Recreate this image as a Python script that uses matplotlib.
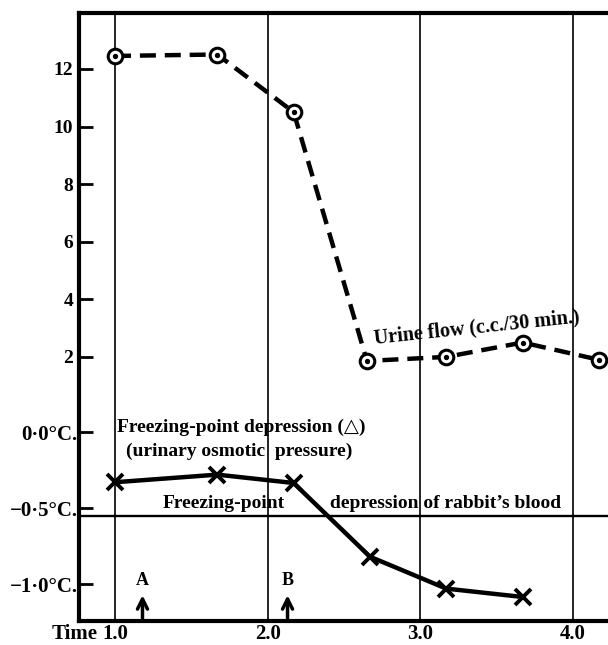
import matplotlib
matplotlib.use("Agg")
import matplotlib.pyplot as plt
import matplotlib.transforms as mtransforms

# time (hours) and values
flow_time = [1.0, 1.67, 2.17, 2.65, 3.17, 3.67, 4.17]
urine_flow = [12.45, 12.5, 10.5, 1.86, 2.0, 2.5, 1.9]      # c.c./30 min
fp_time = [1.0, 1.67, 2.17, 2.67, 3.17, 3.67]
urine_fp = [-0.33, -0.28, -0.335, -0.82, -1.03, -1.085]    # deg C
blood_fp = -0.553
events = ["A", "B"]
event_time = [1.18, 2.13]
x_ticks = [1.0, 2.0, 3.0, 4.0]
x_labels = ["1.0", "2.0", "3.0", "4.0"]
flow_ticks = [2, 4, 6, 8, 10, 12]
fp_ticks = [0.0, -0.5, -1.0]
fp_labels = ["0·0°C.", "\u22120·5°C.", "\u22121·0°C."]

plt.rcParams['font.family'] = ['Liberation Serif', 'DejaVu Sans']
plt.rcParams['font.weight'] = 'bold'
fs = 14

fig = plt.figure(figsize=(6.08, 6.45), dpi=100)
ax = fig.add_axes([0.1299, 0.0372, 0.8701, 0.9426])
ax.set_xlim(0.764, 4.229)
ax.set_ylim(-7.17, 13.94)

# vertical time lines
for t in x_ticks:
    ax.axvline(t, color='black', lw=1.2, zorder=1)

# urine flow
ax.plot(flow_time, urine_flow, color='black', lw=3.2, dashes=(3.6, 2.0),
        marker='o', ms=10.5, mfc='white', mec='black', mew=2.2, zorder=3)
ax.plot(flow_time, urine_flow, ls='none', marker='o', ms=2.8, color='black', zorder=4)

ax.set_xticks(x_ticks)
ax.set_xticklabels(x_labels, fontsize=15, fontweight='bold')
ax.tick_params(axis='x', length=0, pad=2)
ax.set_yticks(flow_ticks)
ax.set_yticklabels([str(v) for v in flow_ticks], fontsize=fs, fontweight='bold')
ax.tick_params(axis='y', direction='in', length=10, width=2, pad=4)
for s in ['left', 'bottom', 'top']:
    ax.spines[s].set_linewidth(3)
ax.spines['right'].set_visible(False)

time_tr = mtransforms.blended_transform_factory(ax.transData, ax.transAxes) + \
    mtransforms.ScaledTranslation(0, -2 / 72, fig.dpi_scale_trans)
ax.text(0.888, 0, "Time", transform=time_tr, ha='right', va='top',
        fontsize=15, fontweight='bold')

ax.text(3.37, 3.0, "Urine flow (c.c./30 min.)", rotation=6, ha='center', va='center',
        fontsize=14.5, fontweight='bold', rotation_mode='anchor')

# freezing point axis
ax2 = ax.twinx()
ax2.set_ylim(-1.243, 2.757)
ax2.yaxis.tick_left()
ax2.set_yticks(fp_ticks)
ax2.set_yticklabels(fp_labels, fontsize=15, fontweight='bold')
ax2.tick_params(axis='y', direction='in', length=10, width=2, pad=1)
for s in ax2.spines.values():
    s.set_visible(False)

ax2.axhline(blood_fp, color='black', lw=1.7, zorder=1)
ax2.plot(fp_time, urine_fp, color='black', lw=3.2, marker='x', ms=11, mew=2.8, zorder=3)

ax2.text(1.01, 0.03, "Freezing-point depression (\u25B3)", ha='left', va='center',
         fontsize=fs, fontweight='bold')
ax2.text(1.07, -0.13, "(urinary osmotic  pressure)", ha='left', va='center',
         fontsize=fs, fontweight='bold')
ax2.text(1.31, -0.47, "Freezing-point", ha='left', va='center', fontsize=fs, fontweight='bold')
ax2.text(2.41, -0.47, "depression of rabbit\u2019s blood", ha='left', va='center',
         fontsize=fs, fontweight='bold')

for lab, t in zip(events, event_time):
    ax2.annotate("", xy=(t, -1.055), xytext=(t, -1.243),
                 arrowprops=dict(arrowstyle='->', lw=2.5, color='black', mutation_scale=18))
    ax2.text(t, -0.975, lab, ha='center', va='center', fontsize=13, fontweight='bold')

fig.savefig("out.png", dpi=100)
